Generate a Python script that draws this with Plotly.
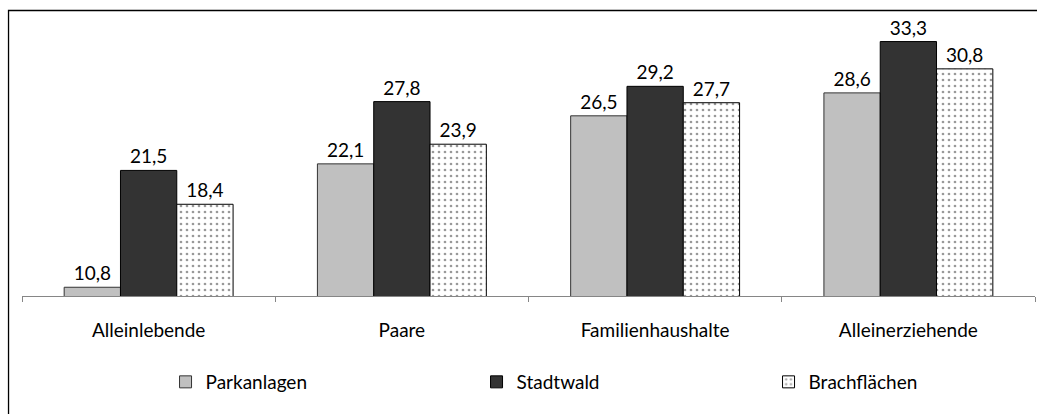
import plotly.graph_objects as go

categories = ["Alleinlebende", "Paare", "Familienhaushalte", "Alleinerziehende"]
parkanlagen = [10.8, 22.1, 26.5, 28.6]
stadtwald = [21.5, 27.8, 29.2, 33.3]
brachflaechen = [18.4, 23.9, 27.7, 30.8]

FONT = "Lato"
FS = 19
fig = go.Figure()
fig.add_trace(go.Bar(
    name="Parkanlagen", x=categories, y=parkanlagen, legendwidth=266,
    marker=dict(color="#C0C0C0", line=dict(color="#333333", width=1)),
    texttemplate="%{y:.1f}", textposition="outside", cliponaxis=False,
    textfont=dict(family=FONT, size=FS, color="#000000"),
))
fig.add_trace(go.Bar(
    name="Stadtwald", x=categories, y=stadtwald, legendwidth=247,
    marker=dict(color="#333333", line=dict(color="#000000", width=1)),
    texttemplate="%{y:.1f}", textposition="outside", cliponaxis=False,
    textfont=dict(family=FONT, size=FS, color="#000000"),
))
fig.add_trace(go.Bar(
    name="Brachflächen", x=categories, y=brachflaechen, legendwidth=115,
    marker=dict(color="#FFFFFF", line=dict(color="#000000", width=1),
                pattern=dict(shape=".", fgcolor="#333333", bgcolor="#FFFFFF",
                             size=6, solidity=0.16, fillmode="overlay")),
    texttemplate="%{y:.1f}", textposition="outside", cliponaxis=False,
    textfont=dict(family=FONT, size=FS, color="#000000"),
))

fig.update_layout(
    width=1037, height=414,
    margin=dict(l=22, r=2, t=23, b=118, autoexpand=False),
    paper_bgcolor="#FFFFFF", plot_bgcolor="#FFFFFF",
    separators=",.",
    barmode="group", bargap=0.333, bargroupgap=0,
    font=dict(family=FONT, size=FS, color="#000000"),
    showlegend=True,
    legend=dict(orientation="h", x=0.1417, xanchor="left", y=-0.315, yanchor="middle",
                entrywidthmode="pixels",
                font=dict(family=FONT, size=FS, color="#000000"),
                bgcolor="rgba(0,0,0,0)", traceorder="normal"),
    xaxis=dict(type="category", showline=True, linecolor="#868686", linewidth=1,
               ticks="outside", tickson="boundaries", ticklen=5, tickcolor="#868686",
               showgrid=False, tickfont=dict(family=FONT, size=FS, color="#000000"),
               ticklabelstandoff=17, automargin=False),
    yaxis=dict(range=[10, 35], visible=False, showgrid=False, automargin=False),
    shapes=[dict(type="rect", xref="paper", yref="paper",
                 x0=-0.0133, x1=1.02, y0=-0.6, y1=1.0458,
                 line=dict(color="#000000", width=1.3), fillcolor="rgba(0,0,0,0)")],
)

fig.write_html("out.html", config={"displayModeBar": False},
               post_script="document.body.style.margin='0';document.body.style.overflow='hidden';")
